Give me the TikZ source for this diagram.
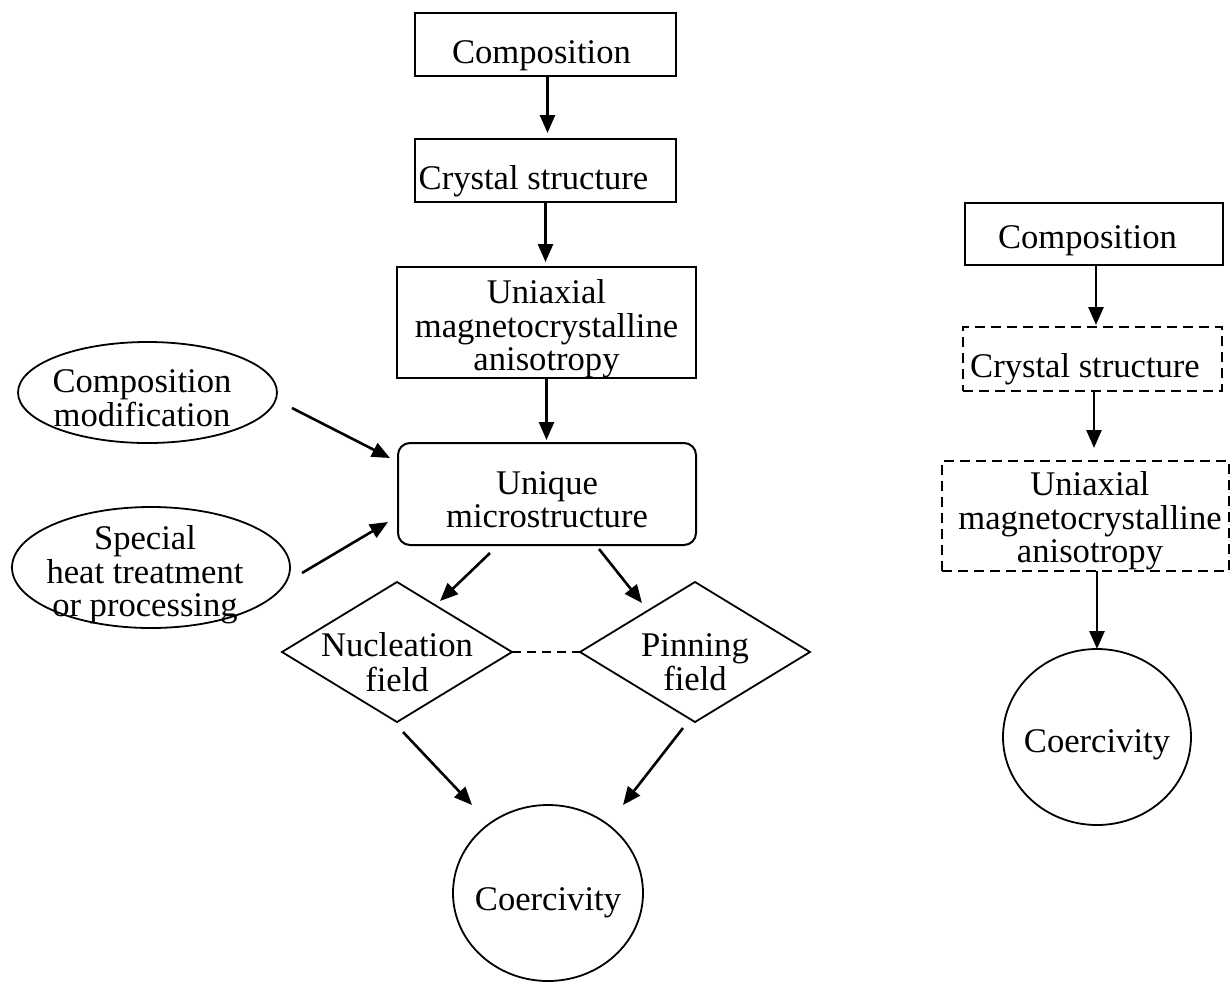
\documentclass[tikz,border=0pt]{standalone}
\usepackage{fontspec}
\setmainfont{Liberation Serif}
\usetikzlibrary{shapes.geometric,arrows.meta}
\newcommand{\zt}[3]{\smash{\makebox[0pt]{\hspace*{#1}\hspace*{#1}\raisebox{-#2}{\begin{tabular}{@{}c@{}}#3\end{tabular}}}}}
\begin{document}
\begin{tikzpicture}[x=0.5pt,y=-0.5pt,
  font=\fontsize{17.3}{16.5}\selectfont,
  base/.style={inner sep=0pt, outer sep=0pt},
  box/.style={base, draw, line width=1pt, rectangle},
  dbox/.style={box, line width=1.2pt, dash pattern=on 5pt off 3pt},
  rbox/.style={box, rounded corners=6pt},
  oval/.style={base, draw, line width=0.9pt, ellipse},
  diam/.style={base, draw, line width=0.9pt, diamond},
  arr/.style={-{Triangle[length=9pt,width=7.5pt]}, line width=1.3pt},
  dline/.style={line width=1.3pt, dash pattern=on 4.5pt off 3pt}
]
\useasboundingbox (0,0) rectangle (1232,981);
% left column
\node[box, minimum width=130.5pt, minimum height=31.5pt] (L1) at (545.5,44.5) {\zt{-2pt}{10.75pt}{Composition}};
\node[box, minimum width=130.5pt, minimum height=31.5pt] (L2) at (545.5,170.5) {\zt{-6pt}{10.5pt}{Crystal structure}};
\node[box, minimum width=149.5pt, minimum height=55.5pt] (L3) at (546.5,322.5) {\zt{0pt}{8pt}{Uniaxial\\magnetocrystalline\\anisotropy}};
\node[rbox, minimum width=149pt, minimum height=51pt] (L4) at (547,494) {\zt{0pt}{9.6pt}{Unique\\microstructure}};
\node[oval, minimum width=129.5pt, minimum height=50.5pt] (E1) at (147.5,392.5) {\zt{-2.75pt}{9.5pt}{Composition\\modification}};
\node[oval, minimum width=139pt, minimum height=60.5pt] (E2) at (151,567.5) {\zt{-3pt}{8.75pt}{Special\\heat treatment\\or processing}};
\node[diam, minimum width=115pt, minimum height=70pt] (D1) at (397,652) {\zt{0pt}{11.75pt}{Nucleation\\field}};
\node[diam, minimum width=115pt, minimum height=70pt] (D2) at (695,652) {\zt{0pt}{11.75pt}{Pinning\\field}};
\node[oval, minimum width=95pt, minimum height=88pt] (C1) at (548,893) {\zt{0pt}{9.75pt}{Coercivity}};
% right column
\node[box, minimum width=129pt, minimum height=31pt] (R1) at (1094,234) {\zt{-3.25pt}{8.1pt}{Composition}};
\node[dbox, minimum width=129.5pt, minimum height=32pt] (R2) at (1092.5,359) {\zt{-3.75pt}{10.25pt}{Crystal structure}};
\node[dbox, minimum width=143.5pt, minimum height=55pt] (R3) at (1085.5,516) {\zt{2.25pt}{7.1pt}{Uniaxial\\magnetocrystalline\\anisotropy}};
\node[oval, minimum width=94pt, minimum height=88pt] (R4) at (1097,737) {\zt{0pt}{8.75pt}{Coercivity}};
% connectors left
\draw[arr, shorten >=3pt] ([xshift=1pt]L1.south) -- ([xshift=1pt]L1.south |- L2.north);
\draw[arr, shorten >=2.5pt] (L2.south) -- (L2.south |- L3.north);
\draw[arr, shorten >=1.5pt] (L3.south) -- (L3.south |- L4.north);
\draw[arr] ([xshift=7.5pt,yshift=-7.75pt]E1.east) -- ([xshift=-4pt,yshift=18pt]L4.west);
\draw[arr] ([xshift=6pt,yshift=-2.75pt]E2.east) -- ([xshift=-5pt,yshift=-14pt]L4.west);
\draw[arr] ([xshift=-28.5pt,yshift=-4pt]L4.south) -- ([xshift=21.5pt,yshift=-9.5pt]D1.north);
\draw[arr] ([xshift=26pt,yshift=-2pt]L4.south) -- ([xshift=-26.5pt,yshift=-10.5pt]D2.north);
\draw[arr] ([xshift=3pt,yshift=-5pt]D1.south) -- ([xshift=-38pt]C1.north);
\draw[arr] ([xshift=-6pt,yshift=-3pt]D2.south) -- ([xshift=37.5pt]C1.north);
\draw[dline] (D1.east) -- (D2.west);
% connectors right
\draw[arr, shorten >=1pt] ([xshift=1pt]R1.south) -- ([xshift=1pt]R1.south |- R2.north);
\draw[arr, shorten >=6.5pt] ([xshift=0.75pt]R2.south) -- ([xshift=0.75pt]R2.south |- R3.north);
\draw[arr] (R4.north |- R3.south) -- (R4.north);
\end{tikzpicture}
\end{document}
